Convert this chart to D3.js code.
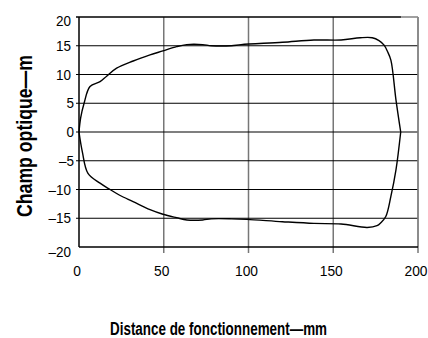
<!DOCTYPE html>
<html><head><meta charset="utf-8">
<script src="https://cdn.jsdelivr.net/npm/d3@7"></script>
<style>body{margin:0;background:#fff}svg{display:block}</style>
</head><body>
<script>
const xTicks = [0, 50, 100, 150, 200];
const yTicks = [-20, -15, -10, -5, 0, 5, 10, 15, 20];
const upperX = [0, 1, 3, 6.5, 12.4, 16.3, 22.2, 32, 41.9, 49.5, 57.6, 63.5, 73, 78, 90, 95.6, 120, 138.6, 154.6, 166, 173, 177, 180, 182, 184, 187, 189.8];
const upperY = [0, 2.5, 5, 7.9, 8.75, 9.7, 11.1, 12.35, 13.4, 14.1, 14.85, 15.2, 15.2, 15.0, 15.0, 15.2, 15.6, 16.0, 16.0, 16.4, 16.4, 15.9, 15.1, 14.0, 12.5, 5.6, 0];
const lowerX = [189.8, 187, 184, 181, 178, 175.8, 170, 154.6, 138.6, 120, 99, 90, 78, 73, 63.7, 57.6, 49.5, 41.9, 31.9, 24, 18.3, 12.4, 5.3, 2, 0];
const lowerY = [0, -6.6, -11.2, -14.7, -15.8, -16.3, -16.6, -16.0, -15.9, -15.6, -15.2, -15.1, -15.1, -15.3, -15.3, -14.9, -14.3, -13.5, -12.1, -11.0, -10, -8.9, -7.2, -3.5, 0];
const xTitle = "Distance de fonctionnement—mm";
const yTitle = "Champ optique—m";

const W = 428, H = 338;
const svg = d3.select("body").append("svg").attr("width", W).attr("height", H);
const x = d3.scaleLinear().domain([0, 200]).range([79, 418]);
const y = d3.scaleLinear().domain([-20, 20]).range([247, 17]);
const font = "'Liberation Sans',Arial,sans-serif";

// vertical grid (gray)
svg.append("g").selectAll("line").data(xTicks.slice(1)).join("line")
  .attr("x1", d => x(d)).attr("x2", d => x(d))
  .attr("y1", y(20)).attr("y2", y(-20) + 6)
  .attr("stroke", "#777").attr("stroke-width", 1.5);
// horizontal grid (black)
svg.append("g").selectAll("line").data(yTicks.filter(d => d > -20 && d < 20)).join("line")
  .attr("x1", x(0) - 3).attr("x2", x(200))
  .attr("y1", d => y(d)).attr("y2", d => y(d))
  .attr("stroke", "#000").attr("stroke-width", 1.2);
// top line
svg.append("line").attr("x1", x(0) - 3).attr("x2", x(190)).attr("y1", y(20)).attr("y2", y(20))
  .attr("stroke", "#000").attr("stroke-width", 1.6);
svg.append("line").attr("x1", x(190)).attr("x2", x(200)).attr("y1", y(20)).attr("y2", y(20))
  .attr("stroke", "#888").attr("stroke-width", 1.6);
// right border
svg.append("line").attr("x1", x(200)).attr("x2", x(200)).attr("y1", y(20)).attr("y2", y(-20))
  .attr("stroke", "#888").attr("stroke-width", 1.5);
// bottom and left axis lines
svg.append("line").attr("x1", x(0)).attr("x2", x(200)).attr("y1", y(-20)).attr("y2", y(-20))
  .attr("stroke", "#000").attr("stroke-width", 1.5);
svg.append("line").attr("x1", x(0)).attr("x2", x(0)).attr("y1", y(20)).attr("y2", y(-20))
  .attr("stroke", "#000").attr("stroke-width", 1.5);

// y tick labels
svg.append("g").selectAll("text").data(yTicks).join("text")
  .attr("transform", d => {
    const tx = Math.abs(d) >= 10 ? 71 : 74;
    const extra = d === 20 ? 4 : (d === -20 ? 5 : 0);
    return `translate(${tx},${y(d) + 5 + extra}) scale(0.9,1)`;
  })
  .attr("text-anchor", "end").attr("font-family", font).attr("font-size", 15)
  .text(d => d < 0 ? "–" + Math.abs(d) : d);
// x tick labels
svg.append("g").selectAll("text").data(xTicks).join("text")
  .attr("transform", d => `translate(${x(d) - 2},276) scale(0.92,1)`)
  .attr("text-anchor", "middle").attr("font-family", font).attr("font-size", 15)
  .text(d => d);

// curve
const pts = upperX.map((v, i) => [v, upperY[i]]).concat(lowerX.map((v, i) => [v, lowerY[i]]));
svg.append("path").datum(pts)
  .attr("d", d3.line().x(d => x(d[0])).y(d => y(d[1])).curve(d3.curveCatmullRom.alpha(0.5)))
  .attr("fill", "none").attr("stroke", "#000").attr("stroke-width", 1.4);

// titles
svg.append("text").attr("x", 110).attr("y", 335)
  .attr("font-family", font).attr("font-weight", "bold").attr("font-size", 18)
  .attr("textLength", 217).attr("lengthAdjust", "spacingAndGlyphs")
  .text(xTitle);
svg.append("text").attr("transform", "translate(32,217) rotate(-90)")
  .attr("font-family", font).attr("font-weight", "bold").attr("font-size", 21.5)
  .attr("textLength", 162).attr("lengthAdjust", "spacingAndGlyphs")
  .text(yTitle);
</script>
</body></html>
